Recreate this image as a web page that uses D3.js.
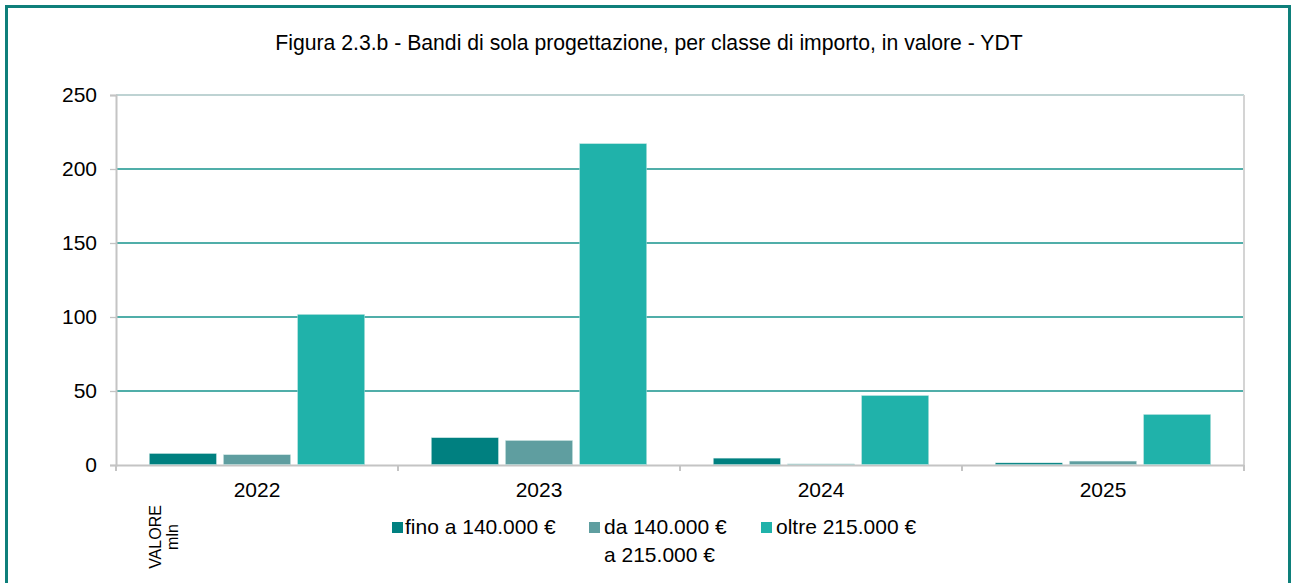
<!DOCTYPE html>
<html>
<head>
<meta charset="utf-8">
<script src="https://cdn.jsdelivr.net/npm/d3@7"></script>
<style>
  body { margin: 0; background: #fff; }
  svg text { font-family: "Liberation Sans", Arial, sans-serif; fill: #000; }
</style>
</head>
<body>
<div id="chart"></div>
<script>
// data
const years = ["2022", "2023", "2024", "2025"];
const series = ["fino a 140.000 €", "da 140.000 €", "oltre 215.000 €"];
const fino = [7.4, 18.1, 4.3, 1.1];
const da = [6.6, 16.2, 0.4, 2.3];
const oltre = [101.4, 216.8, 46.6, 33.8];
const yTicks = [0, 50, 100, 150, 200, 250];

const colors = ["#008080", "#5f9ea0", "#20b2aa"];

// set the dimensions and margins of the graph
const W = 1292, H = 583;
const margin = {top: 95, right: 48, bottom: 118, left: 116},
      width = W - margin.left - margin.right,
      height = H - margin.top - margin.bottom;

const root = d3.select("#chart")
    .append("svg")
        .attr("width", W)
        .attr("height", H);

// outer frame
root.append("rect")
    .attr("x", 6.5).attr("y", 6.5)
    .attr("width", 1283).attr("height", 590)
    .attr("fill", "none")
    .attr("stroke", "#0e7f7a")
    .attr("stroke-width", 3);

// title
root.append("text")
    .attr("x", 649).attr("y", 50)
    .attr("text-anchor", "middle")
    .style("font-size", "21.2px")
    .text("Figura 2.3.b - Bandi di sola progettazione, per classe di importo, in valore - YDT");

const svg = root.append("g")
    .attr("transform", `translate(${margin.left},${margin.top})`);

// scales
const x0 = d3.scaleBand()
    .domain(years)
    .range([0, width]);

const x1 = d3.scaleBand()
    .domain(series)
    .range([0, x0.bandwidth()])
    .paddingInner(0.095)
    .paddingOuter(0.45);

const y = d3.scaleLinear()
    .domain([0, 250])
    .range([height, 0]);

// gridlines
svg.append("g")
    .selectAll("line")
    .data(yTicks.filter(d => d > 0))
    .join("line")
        .attr("x1", 0).attr("x2", width)
        .attr("y1", d => y(d)).attr("y2", d => y(d))
        .attr("stroke", d => d === 250 ? "#a9c4c4" : "#16938c")
        .attr("stroke-width", 1.3);

// right edge of plot
svg.append("line")
    .attr("x1", width).attr("x2", width)
    .attr("y1", 0).attr("y2", height)
    .attr("stroke", "#d4d4d4")
    .attr("stroke-width", 2);

// Y axis
const yAxis = svg.append("g")
    .attr("class", "Yaxis axis")
    .call(d3.axisLeft(y).tickValues(yTicks).tickSize(6).tickPadding(13));
yAxis.select(".domain").attr("stroke", "#c4c4c4").attr("stroke-width", 2);
yAxis.selectAll(".tick line").attr("stroke", "#c4c4c4").attr("stroke-width", 1.3);
yAxis.selectAll("text").style("font-size", "21px").attr("fill", "#000");

// X axis (drawn before the bars so tiny bars stay visible)
const xAxisG = svg.append("g")
    .attr("transform", `translate(0, ${height})`)
    .attr("class", "Xaxis axis");
xAxisG.append("line")
    .attr("x1", 0).attr("x2", width)
    .attr("y1", 0.5).attr("y2", 0.5)
    .attr("stroke", "#c4c4c4").attr("stroke-width", 2);
xAxisG.selectAll(".sep")
    .data(d3.range(years.length + 1))
    .join("line")
        .attr("class", "sep")
        .attr("x1", d => d * x0.step()).attr("x2", d => d * x0.step())
        .attr("y1", 0).attr("y2", 6)
        .attr("stroke", "#c4c4c4").attr("stroke-width", 2);
xAxisG.selectAll(".lbl")
    .data(years)
    .join("text")
        .attr("class", "lbl")
        .attr("x", d => x0(d) + x0.bandwidth() / 2)
        .attr("y", 32)
        .attr("text-anchor", "middle")
        .style("font-size", "21px")
        .text(d => d);

// bars
const groups = [fino, da, oltre];
const barData = [];
years.forEach((yr, i) => {
    series.forEach((s, j) => {
        barData.push({year: yr, key: s, idx: j, value: groups[j][i]});
    });
});

svg.append("g")
    .attr("class", "chart")
    .selectAll("rect")
    .data(barData)
    .join("rect")
        .attr("x", d => x0(d.year) + x1(d.key))
        .attr("y", d => y(d.value) - 0.5)
        .attr("width", x1.bandwidth())
        .attr("height", d => height - y(d.value))
        .attr("fill", d => colors[d.idx])
        .attr("stroke", "#cfe8e6")
        .attr("stroke-width", 0.4);

// axis title, rotated
const yTitle = root.append("text")
    .attr("transform", "translate(161,537) rotate(-90)")
    .attr("text-anchor", "middle")
    .style("font-size", "16px");
yTitle.append("tspan").attr("x", 0).attr("dy", 0).text("VALORE");
yTitle.append("tspan").attr("x", 0).attr("dy", 17).text("mln");

// legend
const legendX = [392, 589, 761];
const legend = root.append("g").attr("class", "legend");
series.forEach((s, j) => {
    legend.append("rect")
        .attr("x", legendX[j]).attr("y", 522)
        .attr("width", 11).attr("height", 11)
        .attr("fill", colors[j]);
});
legend.append("text").attr("x", 405).attr("y", 534)
    .style("font-size", "21px").text("fino a 140.000 €");
const daText = legend.append("text").attr("y", 534).style("font-size", "21px");
daText.append("tspan").attr("x", 604).text("da 140.000 €");
daText.append("tspan").attr("x", 604).attr("dy", 27.5).text("a 215.000 €");
legend.append("text").attr("x", 776).attr("y", 534)
    .style("font-size", "21px").text("oltre 215.000 €");
</script>
</body>
</html>
